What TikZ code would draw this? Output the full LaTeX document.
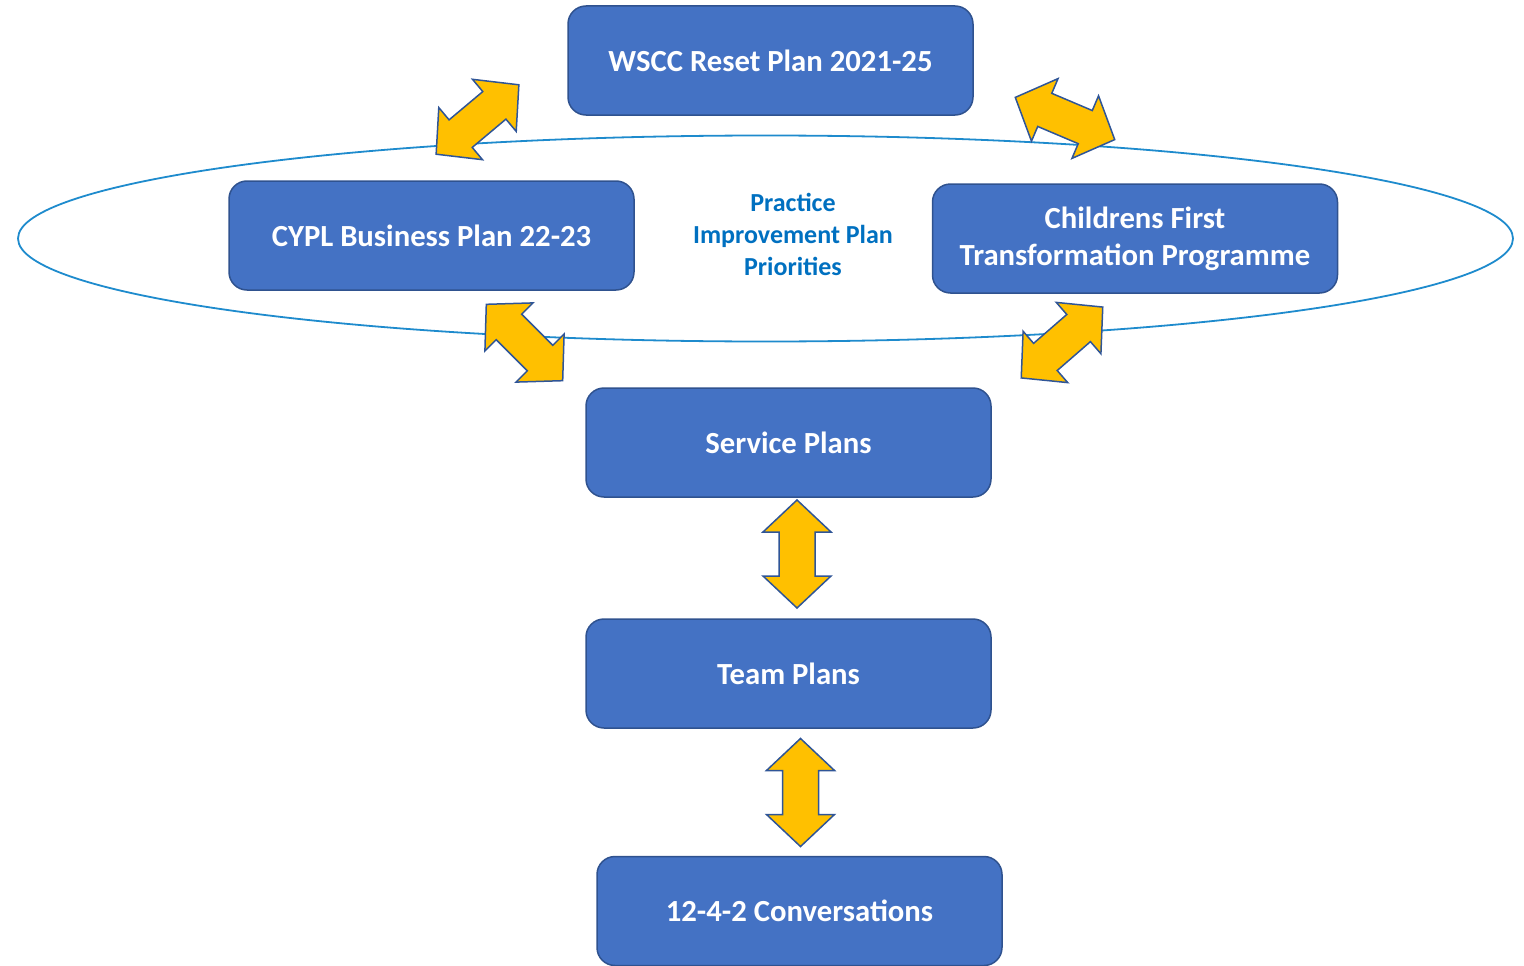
\documentclass[tikz,border=0pt]{standalone}
\usepackage{fontspec}
\setmainfont{Carlito}
\definecolor{boxfill}{HTML}{4472C4}
\definecolor{boxline}{HTML}{2F528F}
\definecolor{arrfill}{HTML}{FFC000}
\definecolor{arrline}{HTML}{2F5597}
\definecolor{ellline}{HTML}{1E8BCD}
\definecolor{ptext}{HTML}{0070C0}
\tikzset{
  planbox/.style={draw=boxline, line width=1.5pt, fill=boxfill, rounded corners=18pt,
    minimum width=405pt, minimum height=109pt, text=white, align=center,
    font=\fontsize{30.7}{37}\selectfont\bfseries, inner sep=0pt},
  blockarrow/.style={draw=arrline, line width=1.5pt, fill=arrfill, line join=miter},
}
\newcommand{\dblarrow}[4]{%
  \begin{scope}[shift={(#1,#2)}, rotate=#3]
    \draw[blockarrow] (-54,0) -- (-22,34) -- (-22,18) -- (22,18) -- (22,34) -- (54,0)
      -- (22,-34) -- (22,-18) -- (-22,-18) -- (-22,-34) -- cycle;
    \coordinate (#4) at (0,0);
  \end{scope}}
\begin{document}
\begin{tikzpicture}[x=1pt,y=-1pt]
\useasboundingbox (0,0) rectangle (1524,966);
\draw[ellline, line width=1.8pt] (765.5,238.5) ellipse [x radius=747.5, y radius=103];
\node[planbox] (wscc) at (770.5,60.5) {WSCC Reset Plan 2021-25};
\node[planbox] (cypl) at (431.5,235.5) {CYPL Business Plan 22-23};
\node[planbox] (cf) at (1135,238.5) {Childrens First\\Transformation Programme};
\node[planbox] (sp) at (788.5,442.5) {Service Plans};
\node[planbox] (tp) at (788.5,673.5) {Team Plans};
\node[planbox] (conv) at (799.5,911) {12-4-2 Conversations};
\node[text=ptext, align=center, font=\fontsize{26}{32}\selectfont\bfseries] (pip) at (793,234)
  {Practice\\Improvement Plan\\Priorities};
\dblarrow{477.5}{119.5}{40}{a1}
\dblarrow{1065}{118.5}{-23}{a2}
\dblarrow{524.5}{342.5}{-45}{a3}
\dblarrow{1062}{342.5}{41}{a4}
\dblarrow{797}{554}{90}{a5}
\dblarrow{800.5}{792.5}{90}{a6}
\end{tikzpicture}
\end{document}
